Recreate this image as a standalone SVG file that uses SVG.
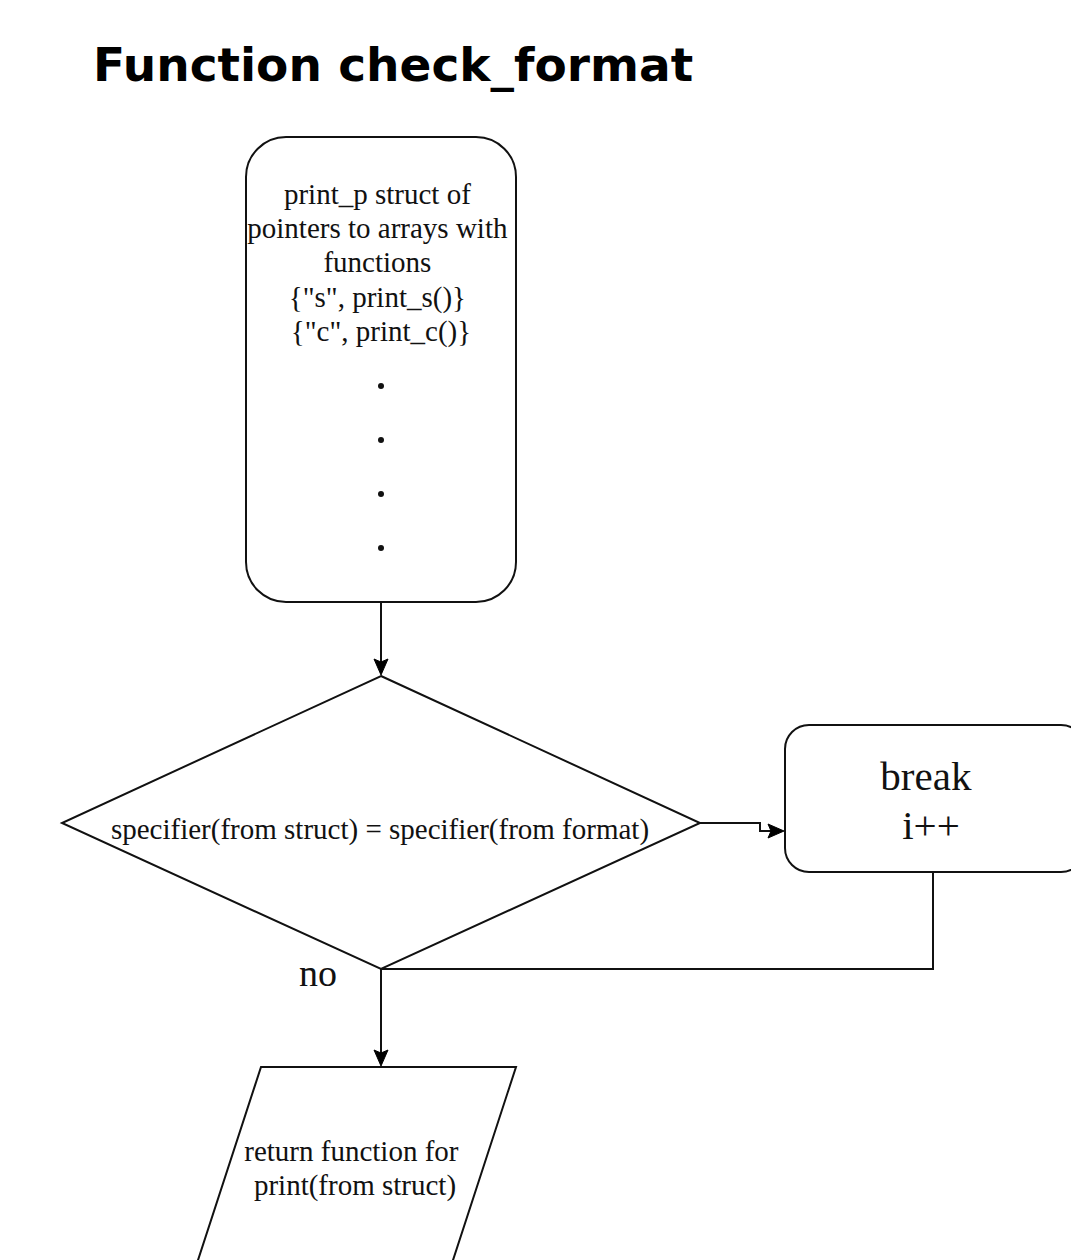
<svg xmlns="http://www.w3.org/2000/svg" width="1071" height="1260" viewBox="0 0 1071 1260">
  <defs>
    <!-- classic filled arrowhead pointing +x, tip at origin -->
    <path id="head" d="M0,0 L-16,-7 L-13,0 L-16,7 Z" fill="#000" stroke="#000" stroke-width="1" stroke-linejoin="miter"/>
    <style>
      .shape { fill: #fff; stroke: #111; stroke-width: 2; }
      .edge { fill: none; stroke: #111; stroke-width: 2; }
      .lbl { font-family: "Liberation Serif", "Times New Roman", serif; fill: #111; text-anchor: middle; }
      .title { font-family: "DejaVu Sans", Verdana, sans-serif; font-weight: bold; fill: #000; }
    </style>
  </defs>
  <rect width="1071" height="1260" fill="#fff"/>

  <text class="title" x="93" y="81" font-size="47">Function check_format</text>

  <g id="edges">
    <path class="edge" d="M381,602 L381,664"/>
    <use href="#head" transform="translate(381,675) rotate(90)"/>
    <path class="edge" d="M700,823 L760,823 L760,831 L772,831"/>
    <use href="#head" transform="translate(784,831)"/>
    <path class="edge" d="M933,872 L933,969 L381,969"/>
    <path class="edge" d="M381,969 L381,1055"/>
    <use href="#head" transform="translate(381,1066) rotate(90)"/>
  </g>

  <g id="struct">
    <rect class="shape" x="246" y="137" width="270" height="465" rx="40" ry="40"/>
    <text class="lbl" font-size="29">
      <tspan x="381" y="204">print_p struct of</tspan>
      <tspan x="381" y="238">pointers to arrays with</tspan>
      <tspan x="381" y="272">functions</tspan>
      <tspan x="381" y="307">{"s", print_s()}</tspan>
      <tspan x="381" y="341">{"c", print_c()}</tspan>
    </text>
    <circle cx="381" cy="386" r="3" fill="#111"/>
    <circle cx="381" cy="440" r="3" fill="#111"/>
    <circle cx="381" cy="494" r="3" fill="#111"/>
    <circle cx="381" cy="548" r="3" fill="#111"/>
  </g>

  <g id="decision">
    <polygon class="shape" points="381,676 700,823 381,969 62,823"/>
    <text class="lbl" x="380" y="839" font-size="29">specifier(from struct) = specifier(from format)</text>
  </g>

  <g id="break">
    <rect class="shape" x="785" y="725" width="300" height="147" rx="24" ry="24"/>
    <text class="lbl" font-size="41">
      <tspan x="931" y="790">break</tspan>
      <tspan x="931" y="839">i++</tspan>
    </text>
  </g>

  <text class="lbl" x="318" y="986" font-size="38">no</text>

  <g id="return">
    <polygon class="shape" points="261,1067 516,1067 440,1300 185,1300"/>
    <text class="lbl" font-size="29">
      <tspan x="355" y="1161">return function for</tspan>
      <tspan x="355" y="1195">print(from struct)</tspan>
    </text>
  </g>
</svg>
